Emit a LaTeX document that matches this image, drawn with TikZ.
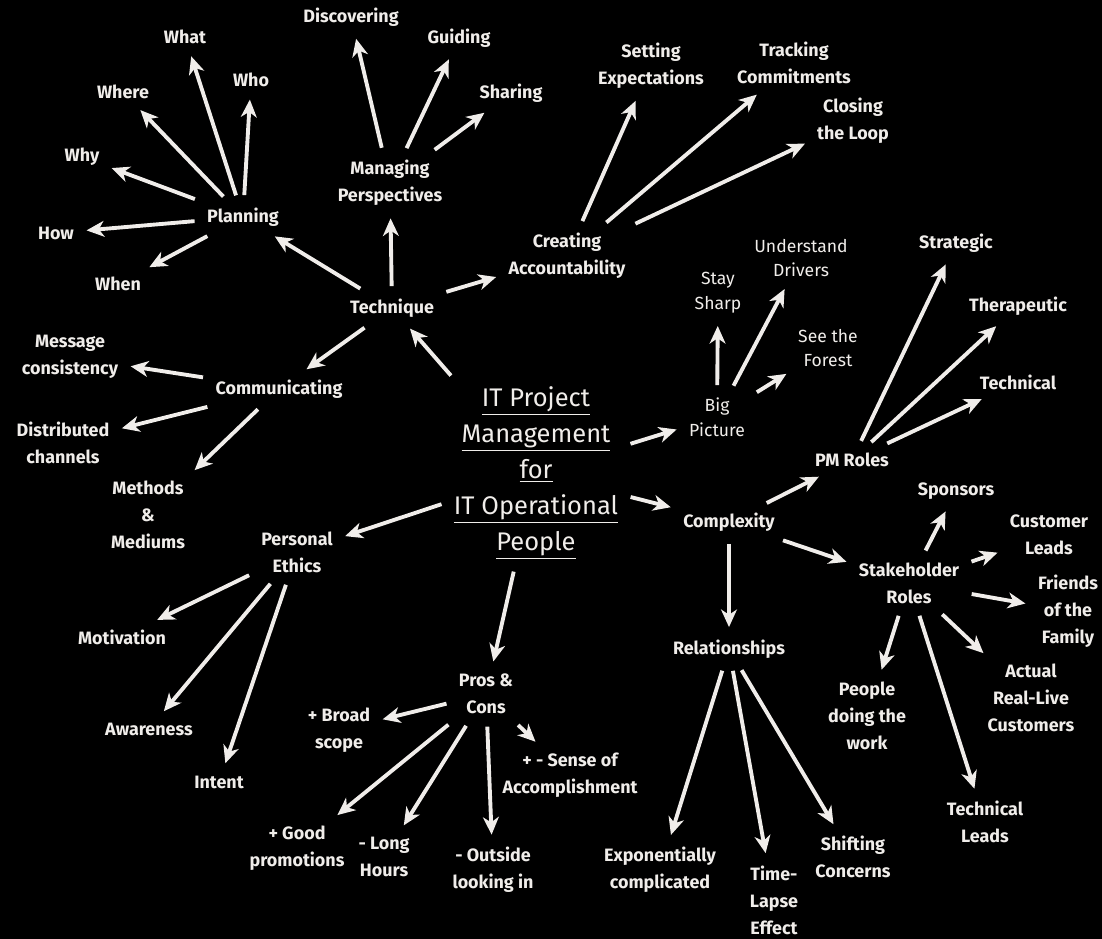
\documentclass[tikz,border=0pt]{standalone}
\usepackage{fontspec}
\setmainfont{Fira Sans}
\usepackage{tikz}
\usetikzlibrary{arrows.meta, positioning}
\usepackage{xcolor}
\definecolor{chalk}{RGB}{240,237,234}

\begin{document}
\begin{tikzpicture}[
  x=0.02cm, y=-0.02cm,
  every node/.style={text=chalk, align=center, inner sep=4pt, font=\bfseries\fontsize{10.2}{15.3}\selectfont},
  thin text/.style={font=\fontsize{10}{14}\selectfont},
  main text/.style={font=\fontsize{14.5}{20.4}\selectfont},
  arrow/.style={-{Stealth[length=10pt, width=9pt, inset=3pt]}, line width=2.2pt, draw=chalk, shorten >=3pt, shorten <=3pt}
]

% Background
\fill[black] (0,0) rectangle (1102,939);
\useasboundingbox (0,0) rectangle (1102,939);

% Central topic
\node[main text] (center) at (536,473) {\underline{IT Project}\\ \underline{Management}\\ \underline{for}\\ \underline{IT Operational}\\ \underline{People}};

% First level
\node (technique) at (392,308) {Technique};
\node (communicating) at (279,389) {Communicating};
\node[thin text] (bigpicture) at (717,417) {Big\\ Picture};
\node (complexity) at (729,522) {Complexity};
\node (ethics) at (297,552) {Personal\\ Ethics};
\node (proscons) at (486,694) {Pros \&\\ Cons};

% Technique branch
\node (planning) at (243,217) {Planning};
\node (managing) at (390,183) {Managing\\ Perspectives};
\node (creating) at (567,256) {Creating\\ Accountability};

\node (what) at (185,37) {What};
\node (who) at (251,80) {Who};
\node (where) at (123,92) {Where};
\node (why) at (82,157) {Why};
\node (how) at (56,233) {How};
\node (when) at (118,284) {When};

\node (discovering) at (351,17) {Discovering};
\node (guiding) at (459,38) {Guiding};
\node (sharing) at (511,93) {Sharing};

\node (setting) at (651,66) {Setting\\ Expectations};
\node (tracking) at (794,63) {Tracking\\ Commitments};
\node (closing) at (853,121) {Closing\\ the Loop};

% Communicating branch
\node (message) at (70,357) {Message\\ consistency};
\node (distributed) at (63,443) {Distributed\\ channels};
\node (methods) at (148,515) {Methods\\ \&\\ Mediums};

% Big picture branch
\node[thin text] (staysharp) at (718,293) {Stay\\ Sharp};
\node[thin text] (drivers) at (801,258) {Understand\\ Drivers};
\node[thin text] (forest) at (828,348) {See the\\ Forest};

% Complexity branch
\node (pmroles) at (852,460) {PM Roles};
\node (stakeholder) at (909,583) {Stakeholder\\ Roles};
\node (relationships) at (729,649) {Relationships};

\node (strategic) at (956,243) {Strategic};
\node (therapeutic) at (1018,306) {Therapeutic};
\node (technical) at (1018,382) {Technical};

\node (sponsors) at (956,491) {Sponsors};
\node (customerleads) at (1049,535) {Customer\\ Leads};
\node (friends) at (1068,611) {Friends\\ of the\\ Family};
\node (actual) at (1031,698) {Actual\\ Real-Live\\ Customers};
\node (people) at (867,716) {People\\ doing the\\ work};
\node (techleads) at (985,822) {Technical\\ Leads};

\node (exponential) at (660,870) {Exponentially\\ complicated};
\node (timelapse) at (774,900) {Time-\\ Lapse\\ Effect};
\node (shifting) at (853,857) {Shifting\\ Concerns};

% Personal ethics branch
\node (motivation) at (122,637) {Motivation};
\node (awareness) at (149,729) {Awareness};
\node (intent) at (219,782) {Intent};

% Pros and cons branch
\node (broad) at (339,730) {+ Broad\\ scope};
\node (sense) at (570,775) {+ - Sense of\\ Accomplishment};
\node (good) at (297,848) {+ Good\\ promotions};
\node (longhours) at (384,857) {- Long\\ Hours};
\node (outside) at (493,870) {- Outside\\ looking in};

% Arrows from the central topic
\draw[arrow] (center) -- (technique);
\draw[arrow] (center) -- (bigpicture);
\draw[arrow] (center) -- (complexity);
\draw[arrow] (center) -- (ethics);
\draw[arrow] (center) -- (proscons);

% Technique
\draw[arrow] (technique) -- (planning);
\draw[arrow] (technique) -- (managing);
\draw[arrow] (technique) -- (creating);
\draw[arrow] (technique) -- (communicating);

\foreach \leaf in {what, who, where, why, how, when}
  \draw[arrow] (planning) -- (\leaf);
\foreach \leaf in {discovering, guiding, sharing}
  \draw[arrow] (managing) -- (\leaf);
\foreach \leaf in {setting, tracking, closing}
  \draw[arrow] (creating) -- (\leaf);
\foreach \leaf in {message, distributed, methods}
  \draw[arrow] (communicating) -- (\leaf);

% Big picture
\foreach \leaf in {staysharp, drivers, forest}
  \draw[arrow] (bigpicture) -- (\leaf);

% Complexity
\foreach \leaf in {pmroles, stakeholder, relationships}
  \draw[arrow] (complexity) -- (\leaf);
\foreach \leaf in {strategic, therapeutic, technical}
  \draw[arrow] (pmroles) -- (\leaf);
\foreach \leaf in {sponsors, customerleads, friends, actual, people, techleads}
  \draw[arrow] (stakeholder) -- (\leaf);
\foreach \leaf in {exponential, timelapse, shifting}
  \draw[arrow] (relationships) -- (\leaf);

% Personal ethics and pros/cons
\foreach \leaf in {motivation, awareness, intent}
  \draw[arrow] (ethics) -- (\leaf);
\foreach \leaf in {broad, sense, good, longhours, outside}
  \draw[arrow] (proscons) -- (\leaf);

\end{tikzpicture}
\end{document}
